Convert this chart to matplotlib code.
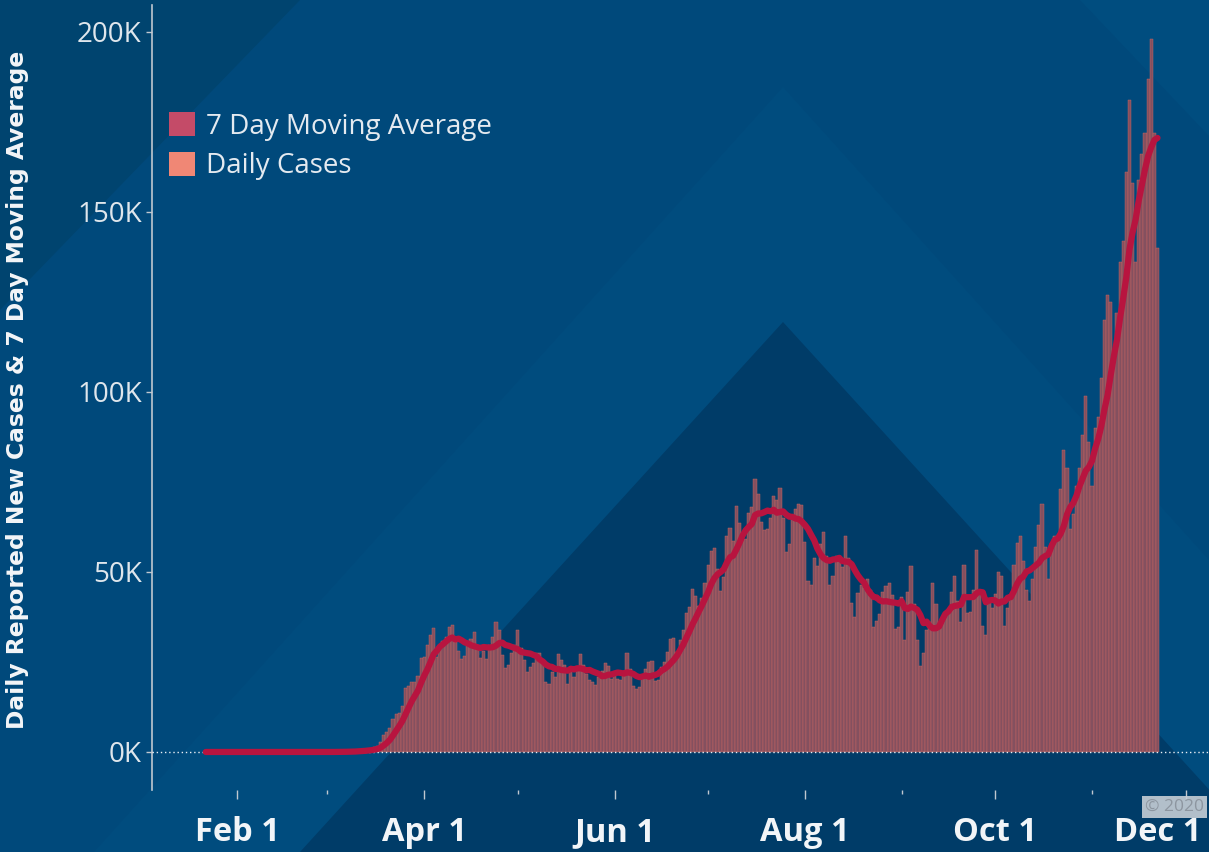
import numpy as np
import pandas as pd
import matplotlib
matplotlib.use("Agg")
import matplotlib.pyplot as plt
import matplotlib.dates as mdates
from matplotlib.patches import Polygon, Patch
from matplotlib.ticker import FuncFormatter
from matplotlib.transforms import ScaledTranslation

plt.rcParams['font.family'] = ['Open Sans', 'DejaVu Sans']

# daily reported new cases (Jan 22 - Nov 22, 2020)
start_date = "2020-01-22"
cases_jan = [1, 0, 1, 0, 3, 0, 0, 0, 0, 2]
cases_feb = [1, 0, 3, 0, 1, 0, 0, 0, 0, 0, 1, 0, 1, 0, 0, 0, 0, 0, 0, 0,
             2, 0, 0, 0, 18, 0, 1, 1, 8]
cases_mar = [10, 23, 22, 31, 72, 94, 117, 120, 175, 289, 388, 454, 629, 725, 796,
             1253, 1690, 2800, 4700, 5600, 6800, 9300, 10500, 10800, 12700,
             17800, 18300, 19500, 19400, 21000, 26000]
cases_apr = [26500, 29800, 32600, 34500, 26300, 29000, 30800, 32000, 34700, 35300,
             30600, 28000, 25800, 26600, 30000, 31300, 33300, 29000, 26000, 28000,
             25800, 29700, 32000, 36200, 34000, 27000, 23400, 24300, 27400, 29700]
cases_may = [34000, 29000, 25500, 22300, 23500, 24700, 27400, 27600, 25000, 19500,
             18800, 22300, 20900, 27200, 25600, 24300, 19000, 22600, 20900, 23100,
             27200, 24200, 21600, 20000, 19500, 18600, 20800, 22600, 24800, 24000, 20400]
cases_jun = [21700, 20300, 19900, 21200, 27500, 23000, 18300, 17500, 18100, 21300,
             23000, 25000, 25200, 19600, 20100, 23600, 25000, 27700, 31500, 31700,
             27700, 31000, 33900, 38600, 40300, 45400, 43400, 40500, 42900, 46900]
cases_jul = [51900, 55800, 56700, 50800, 44800, 48600, 59900, 62100, 58700, 68400,
             63600, 59200, 59100, 66500, 68000, 75700, 71700, 63800, 61700, 62000,
             65100, 71000, 69900, 73200, 65000, 55500, 57800, 64900, 67600, 68800, 68500]
cases_aug = [58400, 47600, 46400, 54000, 51800, 57800, 61000, 54400, 46400, 49000,
             54400, 54500, 51500, 60000, 54000, 41500, 37500, 44200, 46400, 45500,
             48000, 45000, 34800, 36500, 38400, 44500, 46000, 46900, 43700, 34300, 34800]
cases_sep = [43000, 31000, 44400, 51600, 41000, 31000, 24000, 27500, 34000, 36000,
             47000, 41000, 34500, 37000, 39000, 39000, 44500, 49000, 42000, 36000,
             52000, 38500, 39000, 45000, 56000, 45000, 35000, 32600, 42000, 40000]
cases_oct = [44000, 50000, 49000, 35000, 40000, 43000, 52000, 58000, 60000, 53000,
             45000, 42000, 48000, 57000, 63000, 69000, 57000, 48000, 58000, 60000,
             60000, 73000, 84000, 79000, 62000, 66000, 74000, 79000, 88000, 99000, 86000]
cases_nov = [74000, 90000, 93000, 104000, 120000, 127000, 125000, 110000, 122000, 136000,
             142000, 161000, 181000, 158000, 136000, 159000, 166000, 172000, 187000, 198000,
             172000, 140000]

daily_cases = (cases_jan + cases_feb + cases_mar + cases_apr + cases_may + cases_jun
               + cases_jul + cases_aug + cases_sep + cases_oct + cases_nov)
dates = pd.date_range(start_date, periods=len(daily_cases), freq="D")
moving_avg = pd.Series(daily_cases).rolling(7, min_periods=1).mean()

y_ticks = [0, 50000, 100000, 150000, 200000]
legend_labels = ['7 Day Moving Average', 'Daily Cases']

fig = plt.figure(figsize=(12.09, 8.52), dpi=100)
fig.patch.set_facecolor('#00497b')

# background chevrons (pixel coords)
bg = fig.add_axes([0, 0, 1, 1], zorder=0)
bg.set_xlim(0, 1209)
bg.set_ylim(852, 0)
bg.axis('off')
shapes = [
    ([(0, 0), (300, 0), (0, 310)], '#00446f'),
    ([(783, 87), (94, 852), (1472, 852)], '#004c7e'),
    ([(783, 322), (300, 852), (1266, 852)], '#003c68'),
    ([(1080, 0), (1209, 0), (1209, 136)], '#004d7f'),
]
for pts, c in shapes:
    bg.add_patch(Polygon(pts, closed=True, facecolor=c, edgecolor='none'))

ax = fig.add_axes([152/1209, 62/852, 1057/1209, 785/852], zorder=1)
ax.patch.set_visible(False)

x = mdates.date2num(dates)
ax.bar(x, daily_cases, width=1.0, color='#84505f', edgecolor='#d0685f',
       linewidth=0.3, zorder=2)
ax.plot(x, moving_avg, color='#b8143f', linewidth=4.5,
        solid_capstyle='round', solid_joinstyle='round', zorder=4)
ax.axhline(0, color='#e8eef4', linewidth=1.0, linestyle=(0, (1, 2)), zorder=3)

base = mdates.date2num(pd.Timestamp('2020-01-01'))
ax.set_xlim(base + 3.76, base + 342.5)
ax.set_ylim(-10560, 207500)

for s in ['top', 'right', 'bottom']:
    ax.spines[s].set_visible(False)
ax.spines['left'].set_color('#c0c8d0')
ax.spines['left'].set_linewidth(1.2)

ax.xaxis.set_major_locator(mdates.MonthLocator(bymonth=[2, 4, 6, 8, 10, 12]))
ax.xaxis.set_minor_locator(mdates.MonthLocator(bymonth=[1, 3, 5, 7, 9, 11]))
ax.xaxis.set_major_formatter(FuncFormatter(
    lambda v, p: f"{mdates.num2date(v):%b} {mdates.num2date(v).day}"))
ax.tick_params(axis='x', which='major', length=6.5, width=1, color='#c0c8d0',
               pad=12, labelsize=23.5, labelcolor='#f2f5f8')
ax.tick_params(axis='x', which='minor', length=3, width=1, color='#c0c8d0')

ax.set_yticks(y_ticks)
ax.yaxis.set_major_formatter(FuncFormatter(lambda v, p: f"{v/1000:.0f}K"))
ax.tick_params(axis='y', length=4.5, width=1, color='#c0c8d0', pad=3,
               labelsize=20, labelcolor='#dfe6ec')

for lbl in ax.get_xticklabels():
    lbl.set_fontweight('bold')
    if lbl.get_text() == 'Dec 1':
        lbl.set_horizontalalignment('right')
        lbl.set_transform(lbl.get_transform() + ScaledTranslation(0.16, 0, fig.dpi_scale_trans))

ax.set_ylabel('Daily Reported New Cases & 7 Day Moving Average', fontsize=16.8,
              fontweight='bold', color='#f4f6f8', family='DejaVu Sans')
ax.yaxis.set_label_coords(-0.116, 0.51)

handles = [Patch(facecolor='#c44b68', edgecolor='none'),
           Patch(facecolor='#f08775', edgecolor='none')]
ax.legend(handles, legend_labels, loc='upper left',
          bbox_to_anchor=(169/1209, 1 - 112/852), bbox_transform=fig.transFigure,
          frameon=False, fontsize=20, handlelength=0.95, handleheight=0.95,
          handletextpad=0.4, labelspacing=0.4, borderpad=0, borderaxespad=0,
          labelcolor='#e4eaf0')

fig.text(1145/1209, 1 - 807/852, '\u00a9 2020', fontsize=12.5, color='#8d96a0',
         va='center', ha='left', zorder=5,
         bbox=dict(boxstyle='square,pad=0.2', facecolor='#c7ced6', edgecolor='none', alpha=0.9))

fig.savefig('out.png', dpi=100, facecolor=fig.get_facecolor())
